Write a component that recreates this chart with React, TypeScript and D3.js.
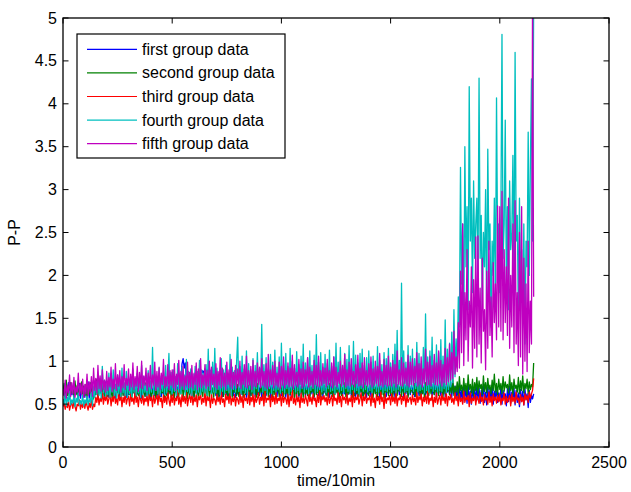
import React from "react";
import * as d3 from "d3";

const STEP = 5; // time units between samples
const xTicks = [0, 500, 1000, 1500, 2000, 2500];
const yTicks = [0, 0.5, 1, 1.5, 2, 2.5, 3, 3.5, 4, 4.5, 5];
const seriesNames = ["first group data", "second group data", "third group data", "fourth group data", "fifth group data"];
const seriesColors = ["#0000ff", "#008000", "#ff0000", "#00bfbf", "#bf00bf"];

const first = [
  0.60,0.72,0.57,0.68,0.63,0.75,0.58,0.70,0.61,0.66,0.56,0.73,0.62,0.69,0.59,0.74,0.57,0.67,0.63,0.71,
  0.58,0.70,0.62,0.76,0.57,0.68,0.64,0.73,0.59,0.71,0.61,0.78,0.58,0.69,0.63,0.74,0.60,0.72,0.57,0.76,
  0.63,0.69,0.58,0.75,0.61,0.71,0.60,0.78,0.57,0.70,0.64,0.73,0.59,0.77,0.62,0.68,0.60,0.74,0.58,0.72,
  0.61,0.76,0.59,0.70,0.63,0.73,0.58,0.79,0.62,0.68,0.60,0.75,0.57,0.71,0.64,0.74,0.59,0.69,0.62,0.77,
  0.58,0.73,0.63,0.69,0.60,0.78,0.57,0.72,0.64,0.70,0.59,0.76,0.61,0.68,0.62,0.75,0.58,0.71,0.63,0.74,
  0.60,0.72,0.62,0.77,0.58,0.70,0.64,0.74,0.80,0.97,1.03,0.92,0.98,0.76,0.63,0.71,0.60,0.75,0.62,0.70,
  0.59,0.74,0.63,0.70,0.61,0.78,0.66,0.85,0.89,0.86,0.91,0.88,0.90,0.85,0.92,0.87,0.89,0.84,0.80,0.72,
  0.60,0.76,0.58,0.71,0.63,0.74,0.59,0.78,0.62,0.69,0.61,0.75,0.57,0.72,0.64,0.70,0.60,0.77,0.58,0.73,
  0.62,0.70,0.59,0.75,0.61,0.72,0.64,0.79,0.58,0.71,0.63,0.74,0.60,0.86,0.62,0.73,0.59,0.76,0.61,0.70,
  0.63,0.75,0.58,0.72,0.62,0.77,0.60,0.70,0.64,0.74,0.57,0.78,0.61,0.71,0.63,0.73,0.59,0.76,0.62,0.69,
  0.60,0.74,0.62,0.79,0.58,0.72,0.63,0.76,0.60,0.70,0.64,0.75,0.59,0.73,0.61,0.81,0.58,0.71,0.62,0.74,
  0.61,0.77,0.59,0.72,0.63,0.74,0.60,0.70,0.62,0.78,0.58,0.73,0.64,0.76,0.60,0.71,0.61,0.75,0.59,0.72,
  0.63,0.71,0.60,0.76,0.58,0.73,0.62,0.79,0.61,0.70,0.64,0.74,0.59,0.72,0.63,0.77,0.60,0.70,0.62,0.75,
  0.58,0.74,0.62,0.71,0.60,0.77,0.63,0.72,0.59,0.75,0.61,0.70,0.64,0.78,0.60,0.73,0.62,0.76,0.58,0.71,
  0.62,0.72,0.59,0.78,0.61,0.74,0.63,0.70,0.60,0.76,0.58,0.73,0.64,0.71,0.61,0.79,0.59,0.74,0.63,0.72,
  0.60,0.75,0.62,0.71,0.58,0.77,0.63,0.73,0.61,0.70,0.64,0.76,0.59,0.72,0.62,0.78,0.60,0.74,0.61,0.71,
  0.63,0.73,0.59,0.76,0.62,0.71,0.60,0.79,0.58,0.74,0.63,0.72,0.61,0.77,0.59,0.70,0.64,0.75,0.60,0.73,
  0.61,0.78,0.58,0.72,0.63,0.75,0.60,0.71,0.62,0.77,0.59,0.73,0.64,0.70,0.61,0.76,0.58,0.74,0.62,0.71,
  0.57,0.70,0.53,0.74,0.56,0.66,0.52,0.71,0.58,0.68,0.51,0.73,0.55,0.65,0.50,0.70,0.56,0.67,0.53,0.72,
  0.55,0.69,0.51,0.66,0.57,0.73,0.52,0.64,0.49,0.70,0.55,0.67,0.53,0.72,0.50,0.65,0.56,0.69,0.52,0.63,
  0.54,0.70,0.50,0.66,0.56,0.62,0.48,0.68,0.53,0.71,0.51,0.64,0.55,0.69,0.49,0.66,0.52,0.63,0.47,0.67,
  0.53,0.65,0.49,0.68,0.55,0.62,0.46,0.66,0.52,0.60,0.56,0.62,
];

const second = [
  0.62,0.74,0.58,0.78,0.60,0.70,0.56,0.75,0.63,0.68,0.59,0.77,0.61,0.72,0.57,0.69,0.64,0.76,0.58,0.71,
  0.60,0.73,0.57,0.68,0.62,0.75,0.59,0.70,0.56,0.74,0.61,0.79,0.58,0.72,0.63,0.67,0.60,0.76,0.57,0.70,
  0.64,0.59,0.72,0.61,0.68,0.57,0.74,0.62,0.69,0.58,0.71,0.63,0.66,0.56,0.73,0.60,0.70,0.62,0.75,0.59,
  0.67,0.61,0.72,0.57,0.69,0.63,0.74,0.58,0.68,0.60,0.71,0.56,0.73,0.62,0.67,0.59,0.75,0.61,0.70,0.57,
  0.70,0.58,0.66,0.62,0.73,0.57,0.69,0.61,0.76,0.59,0.67,0.63,0.71,0.56,0.74,0.60,0.68,0.62,0.72,0.58,
  0.61,0.69,0.57,0.74,0.63,0.67,0.59,0.72,0.62,0.77,0.58,0.70,0.64,0.66,0.56,0.73,0.61,0.69,0.60,0.75,
  0.58,0.72,0.63,0.68,0.57,0.75,0.61,0.70,0.59,0.73,0.64,0.67,0.60,0.76,0.57,0.71,0.62,0.69,0.58,0.74,
  0.66,0.60,0.73,0.58,0.69,0.62,0.77,0.59,0.71,0.63,0.68,0.57,0.74,0.61,0.70,0.58,0.72,0.64,0.67,0.60,
  0.73,0.59,0.68,0.62,0.75,0.58,0.70,0.61,0.67,0.64,0.72,0.57,0.76,0.60,0.69,0.63,0.71,0.58,0.74,0.62,
  0.60,0.70,0.64,0.73,0.58,0.68,0.62,0.76,0.59,0.71,0.63,0.69,0.57,0.74,0.61,0.67,0.65,0.72,0.59,0.70,
  0.63,0.75,0.59,0.69,0.62,0.72,0.58,0.77,0.61,0.68,0.64,0.73,0.57,0.70,0.62,0.76,0.60,0.67,0.63,0.71,
  0.58,0.73,0.62,0.68,0.60,0.75,0.57,0.70,0.64,0.72,0.59,0.78,0.61,0.67,0.63,0.74,0.58,0.69,0.62,0.72,
  0.65,0.60,0.71,0.58,0.74,0.62,0.68,0.59,0.76,0.61,0.70,0.63,0.67,0.57,0.73,0.60,0.69,0.64,0.75,0.59,
  0.70,0.61,0.67,0.63,0.74,0.58,0.72,0.60,0.77,0.62,0.68,0.59,0.73,0.64,0.69,0.57,0.75,0.61,0.71,0.63,
  0.60,0.72,0.64,0.68,0.58,0.76,0.62,0.70,0.59,0.74,0.63,0.67,0.61,0.73,0.57,0.71,0.64,0.69,0.60,0.78,
  0.62,0.70,0.58,0.75,0.63,0.68,0.60,0.73,0.65,0.71,0.59,0.77,0.62,0.69,0.64,0.74,0.58,0.72,0.63,0.68,
  0.66,0.61,0.74,0.59,0.70,0.64,0.76,0.60,0.72,0.62,0.69,0.58,0.75,0.63,0.71,0.60,0.78,0.62,0.70,0.65,
  0.61,0.73,0.63,0.69,0.60,0.77,0.64,0.71,0.58,0.74,0.62,0.70,0.65,0.76,0.61,0.72,0.63,0.79,0.60,0.71,
  0.64,0.76,0.60,0.82,0.66,0.72,0.62,0.80,0.65,0.74,0.61,0.84,0.67,0.73,0.63,0.79,0.60,0.75,0.66,0.81,
  0.62,0.77,0.68,0.73,0.61,0.83,0.65,0.75,0.63,0.80,0.67,0.72,0.62,0.78,0.66,0.85,0.64,0.74,0.61,0.79,
  0.67,0.74,0.62,0.82,0.65,0.76,0.69,0.73,0.63,0.84,0.66,0.75,0.61,0.79,0.68,0.72,0.64,0.81,0.62,0.77,
  0.66,0.83,0.63,0.74,0.68,0.79,0.62,0.76,0.67,0.73,0.70,0.98,
];

const third = [
  0.47,0.52,0.44,0.50,0.46,0.54,0.43,0.49,0.51,0.45,0.53,0.47,0.42,0.50,0.48,0.55,0.44,0.51,0.46,0.52,
  0.45,0.53,0.48,0.43,0.51,0.46,0.55,0.44,0.50,0.47,0.58,0.52,0.62,0.49,0.57,0.53,0.64,0.50,0.59,0.54,
  0.61,0.50,0.56,0.63,0.48,0.58,0.53,0.66,0.51,0.57,0.49,0.62,0.54,0.60,0.47,0.58,0.52,0.64,0.50,0.56,
  0.59,0.48,0.62,0.53,0.57,0.50,0.65,0.52,0.58,0.47,0.61,0.55,0.51,0.63,0.49,0.57,0.53,0.60,0.48,0.62,
  0.54,0.58,0.47,0.63,0.51,0.56,0.60,0.49,0.65,0.53,0.57,0.46,0.61,0.52,0.59,0.50,0.64,0.55,0.48,0.60,
  0.52,0.62,0.49,0.57,0.54,0.66,0.50,0.58,0.47,0.61,0.53,0.59,0.51,0.63,0.48,0.56,0.60,0.52,0.64,0.49,
  0.58,0.53,0.61,0.47,0.59,0.55,0.63,0.50,0.57,0.52,0.65,0.48,0.60,0.54,0.58,0.46,0.62,0.51,0.57,0.55,
  0.49,0.61,0.53,0.58,0.50,0.64,0.52,0.56,0.47,0.62,0.55,0.59,0.51,0.66,0.49,0.57,0.53,0.61,0.48,0.58,
  0.55,0.50,0.63,0.52,0.59,0.46,0.61,0.54,0.57,0.51,0.64,0.49,0.58,0.53,0.62,0.47,0.60,0.52,0.56,0.63,
  0.50,0.58,0.54,0.61,0.48,0.65,0.52,0.57,0.55,0.60,0.47,0.62,0.53,0.59,0.50,0.64,0.51,0.57,0.54,0.61,
  0.48,0.63,0.52,0.58,0.56,0.50,0.62,0.47,0.59,0.54,0.66,0.51,0.57,0.49,0.61,0.53,0.58,0.46,0.63,0.52,
  0.57,0.51,0.60,0.55,0.48,0.64,0.53,0.58,0.50,0.62,0.54,0.57,0.47,0.61,0.52,0.65,0.49,0.59,0.55,0.60,
  0.53,0.58,0.49,0.63,0.51,0.56,0.60,0.48,0.62,0.54,0.57,0.50,0.64,0.52,0.59,0.47,0.61,0.55,0.58,0.51,
  0.62,0.49,0.57,0.53,0.60,0.47,0.65,0.52,0.58,0.55,0.61,0.50,0.56,0.63,0.48,0.59,0.54,0.62,0.51,0.57,
  0.55,0.60,0.48,0.63,0.52,0.57,0.46,0.61,0.54,0.59,0.50,0.64,0.53,0.58,0.45,0.62,0.51,0.57,0.55,0.60,
  0.49,0.62,0.53,0.58,0.51,0.65,0.48,0.57,0.55,0.61,0.50,0.59,0.54,0.63,0.47,0.60,0.52,0.56,0.58,0.50,
  0.61,0.53,0.57,0.49,0.64,0.52,0.59,0.55,0.62,0.48,0.58,0.53,0.60,0.51,0.65,0.50,0.57,0.54,0.61,0.47,
  0.58,0.52,0.63,0.50,0.56,0.60,0.49,0.62,0.54,0.58,0.51,0.64,0.48,0.59,0.55,0.61,0.52,0.57,0.50,0.63,
  0.54,0.59,0.48,0.62,0.53,0.57,0.50,0.65,0.52,0.58,0.55,0.60,0.47,0.63,0.51,0.57,0.54,0.61,0.49,0.59,
  0.56,0.51,0.63,0.53,0.58,0.49,0.61,0.55,0.57,0.50,0.64,0.52,0.59,0.48,0.62,0.54,0.58,0.51,0.60,0.53,
  0.61,0.49,0.57,0.54,0.63,0.50,0.59,0.52,0.56,0.60,0.48,0.62,0.53,0.58,0.51,0.64,0.55,0.57,0.50,0.61,
  0.53,0.58,0.49,0.62,0.55,0.60,0.52,0.64,0.57,0.62,0.66,0.80,
];

const fourth = [
  0.56,0.50,0.62,0.48,0.58,0.53,0.65,0.49,0.55,0.51,0.60,0.47,0.57,0.52,0.63,0.49,0.54,0.50,0.61,0.48,
  0.55,0.51,0.59,0.49,0.56,0.52,0.64,0.48,0.70,0.58,0.76,0.62,0.82,0.60,0.74,0.57,0.94,0.63,0.78,0.59,
  0.72,0.61,0.86,0.58,0.77,0.64,0.90,0.60,0.73,0.57,0.84,0.62,0.79,0.59,0.92,0.63,0.75,0.60,0.88,0.58,
  0.80,0.62,0.74,0.59,0.91,0.64,0.78,0.60,0.86,0.63,0.76,0.58,0.95,0.61,0.82,0.64,0.73,0.60,0.89,0.62,
  0.77,0.64,1.16,0.61,0.85,0.66,0.79,0.62,0.92,0.60,0.83,0.65,0.88,0.61,0.95,0.63,0.80,1.09,0.66,0.87,
  0.62,0.90,0.65,0.82,0.60,0.97,0.64,0.86,0.62,0.93,0.67,0.84,0.61,1.02,0.65,0.88,0.63,0.91,0.60,0.85,
  0.66,0.94,0.62,0.88,0.64,1.01,0.61,0.90,0.65,0.86,0.63,0.96,0.60,1.14,0.66,0.89,0.62,0.99,0.64,1.15,
  0.63,0.92,0.67,0.87,0.61,1.03,0.65,0.90,0.62,0.95,0.66,0.86,0.63,1.08,0.60,0.93,0.67,0.89,0.64,1.00,
  1.28,0.65,0.94,0.62,1.06,0.66,0.91,0.63,1.12,0.61,0.97,0.67,0.90,0.64,1.03,0.62,0.95,0.68,1.10,0.65,
  0.92,0.70,1.43,0.64,0.96,0.66,1.04,0.63,0.91,0.68,1.08,0.62,0.99,0.66,1.13,0.64,0.93,0.67,1.05,0.63,
  1.21,0.66,0.97,0.63,1.09,0.68,0.94,0.62,1.15,0.65,1.00,0.67,0.92,0.64,1.11,0.66,0.96,0.63,1.06,0.68,
  1.20,0.64,0.98,0.67,1.04,0.62,1.12,0.66,0.95,0.68,1.07,0.63,1.31,0.65,0.99,0.67,1.10,0.64,0.93,0.66,
  1.08,0.63,0.97,0.68,1.13,0.65,0.94,0.66,1.05,0.62,1.21,0.67,0.99,0.64,1.16,0.66,0.95,0.63,1.09,0.68,
  1.02,0.65,1.18,0.63,0.96,0.67,1.23,0.64,1.07,0.66,0.98,0.62,1.09,0.68,1.14,0.65,0.95,0.67,1.04,0.64,
  1.12,0.66,0.99,0.63,1.06,0.68,0.93,0.65,1.17,0.64,1.01,0.67,0.96,0.63,1.10,0.66,1.03,0.65,1.15,0.67,
  0.98,0.64,1.08,0.66,1.20,0.63,1.36,0.67,1.01,0.65,1.91,0.68,1.12,0.64,0.99,0.66,1.18,0.63,1.06,0.67,
  1.14,0.65,1.03,0.68,1.22,0.64,1.09,0.66,0.97,0.67,1.16,0.63,1.55,0.66,1.05,0.64,1.12,0.68,1.28,0.65,
  1.01,0.67,1.19,0.64,1.10,0.66,1.25,0.65,1.06,0.68,1.48,0.63,1.14,0.67,1.21,0.70,1.34,0.75,1.60,0.82,
  1.26,0.92,1.75,1.40,3.26,1.90,2.60,1.30,3.50,2.10,2.80,1.60,4.20,2.40,2.90,1.80,3.10,2.20,2.60,2.90,
  1.90,4.30,2.20,2.70,1.60,2.50,2.10,3.00,1.50,3.47,2.30,2.60,1.40,2.40,2.00,2.90,1.70,4.07,2.30,2.60,
  1.80,2.70,4.81,2.20,2.60,3.81,1.90,2.80,1.60,3.10,2.30,2.50,3.40,1.90,4.60,2.40,2.70,1.50,2.90,2.00,
  2.30,1.40,2.60,1.20,2.40,2.10,3.67,2.00,3.30,4.29,2.40,5.20,
];

const fifth = [
  0.68,0.60,0.78,0.57,0.72,0.63,0.84,0.59,0.75,0.62,0.81,0.58,0.70,0.64,0.86,0.60,0.74,0.61,0.79,0.58,
  0.73,0.62,0.85,0.60,0.76,0.64,0.82,0.59,0.92,0.66,0.80,0.63,0.95,0.68,0.83,0.65,0.90,0.67,0.78,0.64,
  0.88,0.66,0.81,0.70,0.93,0.65,0.79,0.68,0.97,0.66,0.84,0.71,0.89,0.64,0.82,0.69,0.96,0.67,0.80,0.72,
  0.91,0.66,0.85,0.70,0.98,0.67,0.82,0.71,0.94,0.65,0.87,0.69,1.00,0.68,0.83,0.72,0.92,0.66,0.86,0.70,
  0.95,0.68,0.84,0.72,0.99,0.66,0.88,0.70,0.93,0.67,0.86,0.73,1.02,0.69,0.82,0.71,0.96,0.67,0.89,0.72,
  0.90,0.69,0.97,0.66,0.85,0.73,1.01,0.68,0.88,0.71,0.94,0.67,0.83,0.72,0.99,0.69,0.87,0.70,0.95,0.68,
  0.86,0.73,0.98,0.67,0.91,0.70,1.03,0.69,0.84,0.72,0.96,0.68,0.89,0.71,1.00,0.67,0.93,0.73,0.85,0.70,
  0.97,0.68,0.88,0.72,1.04,0.69,0.92,0.71,0.86,0.67,0.99,0.73,0.90,0.70,1.02,0.68,0.87,0.72,0.95,0.69,
  0.91,0.71,1.00,0.68,0.87,0.73,0.96,0.70,1.06,0.69,0.89,0.72,0.94,0.67,1.01,0.71,0.88,0.70,0.98,0.73,
  0.93,0.69,1.03,0.72,0.88,0.70,0.97,0.68,1.08,0.71,0.90,0.73,0.95,0.69,1.00,0.72,0.86,0.70,0.99,0.68,
  0.94,0.72,1.05,0.69,0.89,0.73,0.98,0.70,0.92,0.71,1.07,0.68,0.96,0.72,0.87,0.70,1.02,0.73,0.91,0.69,
  0.99,0.71,0.90,0.74,1.04,0.70,0.93,0.72,0.88,0.69,1.01,0.73,0.95,0.71,1.06,0.70,0.89,0.72,0.97,0.74,
  0.92,0.70,1.02,0.73,0.89,0.71,0.98,0.69,1.05,0.72,0.93,0.70,0.87,0.74,1.00,0.71,0.95,0.73,1.08,0.70,
  0.90,0.72,0.99,0.71,1.03,0.73,0.88,0.70,0.96,0.74,1.07,0.71,0.92,0.72,0.98,0.69,1.04,0.73,0.89,0.71,
  0.97,0.73,1.05,0.70,0.91,0.72,1.00,0.74,0.94,0.71,1.09,0.72,0.88,0.70,1.02,0.73,0.95,0.71,1.06,0.72,
  0.93,0.71,1.01,0.74,0.96,0.70,1.12,0.73,0.90,0.72,1.04,0.71,0.98,0.74,0.92,0.72,1.07,0.70,0.99,0.73,
  1.03,0.72,0.94,0.75,1.10,0.71,0.97,0.73,1.05,0.70,0.91,0.74,1.14,0.72,0.99,0.73,1.06,0.71,0.95,0.75,
  1.08,0.73,0.98,0.72,1.12,0.74,1.01,0.71,0.96,0.75,1.15,0.73,1.04,0.76,1.20,0.78,1.10,0.80,1.35,0.85,
  1.05,0.88,1.45,0.92,2.05,1.10,2.60,0.95,1.80,1.25,2.30,1.00,1.70,1.40,2.10,0.92,1.95,1.15,2.45,1.05,
  2.46,1.20,1.85,0.98,2.20,1.35,1.60,0.90,2.05,1.15,2.40,1.30,1.75,1.05,2.15,1.45,1.90,1.25,2.81,1.40,
  2.80,1.35,2.98,1.25,2.30,1.45,2.10,1.30,2.90,1.15,2.00,1.40,2.60,1.10,2.87,1.20,1.80,0.95,2.50,1.05,
  2.80,0.85,2.20,1.00,1.90,0.88,2.40,1.10,1.70,1.20,5.30,1.75,
];

const allSeries = [first, second, third, fourth, fifth];

const W = 631;
const H = 492;
const L = 63, R = 609, T = 18, B = 447;
const FONT = "Liberation Sans, Arial, sans-serif";
const FS = 16;
const TICK = 5.5;

export default function App() {
  const x = d3.scaleLinear().domain([0, 2500]).range([L, R]);
  const y = d3.scaleLinear().domain([0, 5]).range([B, T]);
  const line = d3
    .line<number>()
    .x((_, i) => x(i * STEP))
    .y((d) => y(d));

  const legendX = 77, legendY = 34, legendW = 208, legendH = 124;
  const rowY0 = 49.3, rowDy = 23.6;

  return (
    <svg
      width={W}
      height={H}
      style={{ position: "absolute", left: 0, top: 0, background: "#fff" }}
      fontFamily={FONT}
    >
      <rect x={0} y={0} width={W} height={H} fill="#fff" />
      <defs>
        <clipPath id="plotClip">
          <rect x={L} y={T} width={R - L} height={B - T} />
        </clipPath>
      </defs>
      <g clipPath="url(#plotClip)">
        {allSeries.map((s, k) => (
          <path
            key={k}
            d={line(s) || ""}
            fill="none"
            stroke={seriesColors[k]}
            strokeWidth={1.3}
            strokeLinejoin="round"
          />
        ))}
      </g>
      {xTicks.map((t) => (
        <g key={"xt" + t}>
          <line x1={x(t)} x2={x(t)} y1={B} y2={B - TICK} stroke="#000" strokeWidth={1} />
          <line x1={x(t)} x2={x(t)} y1={T} y2={T + TICK} stroke="#000" strokeWidth={1} />
          <text x={x(t)} y={468} fontSize={FS} textAnchor="middle" fill="#000">
            {t}
          </text>
        </g>
      ))}
      {yTicks.map((t) => (
        <g key={"yt" + t}>
          <line x1={L} x2={L + TICK} y1={y(t)} y2={y(t)} stroke="#000" strokeWidth={1} />
          <line x1={R} x2={R - TICK} y1={y(t)} y2={y(t)} stroke="#000" strokeWidth={1} />
          <text x={57} y={y(t) + 5.5} fontSize={FS} textAnchor="end" fill="#000">
            {t}
          </text>
        </g>
      ))}
      <rect x={L} y={T} width={R - L} height={B - T} fill="none" stroke="#000" strokeWidth={1.3} />
      <text x={(L + R) / 2} y={486} fontSize={FS} textAnchor="middle" fill="#000">
        time/10min
      </text>
      <text
        transform={`translate(20, ${(T + B) / 2}) rotate(-90)`}
        fontSize={FS}
        textAnchor="middle"
        fill="#000"
      >
        P-P
      </text>
      <rect x={legendX} y={legendY} width={legendW} height={legendH} fill="#fff" stroke="#000" strokeWidth={1.2} />
      {seriesNames.map((n, k) => (
        <g key={n}>
          <line
            x1={87}
            x2={137}
            y1={rowY0 + k * rowDy}
            y2={rowY0 + k * rowDy}
            stroke={seriesColors[k]}
            strokeWidth={1.2}
          />
          <text x={142} y={rowY0 + k * rowDy + 5.5} fontSize={FS} fill="#000">
            {n}
          </text>
        </g>
      ))}
    </svg>
  );
}
